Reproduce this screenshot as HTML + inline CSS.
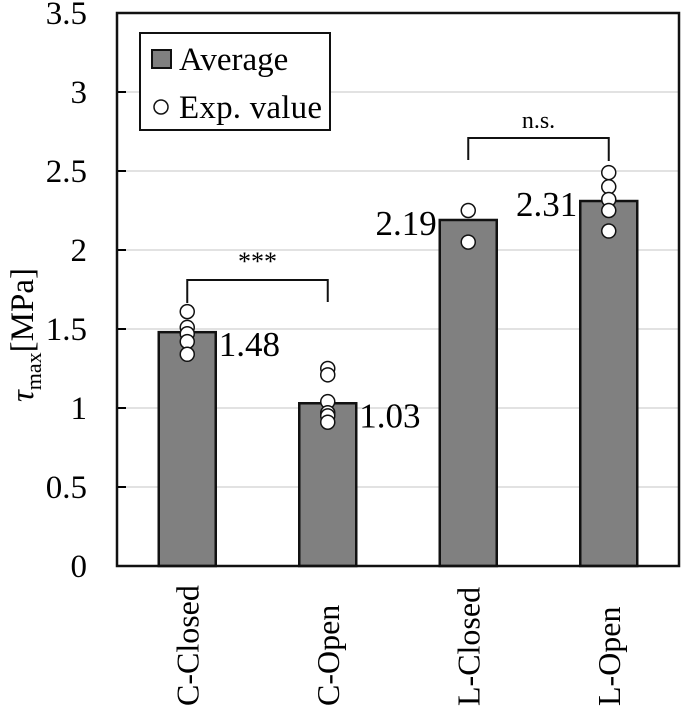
<!DOCTYPE html>
<html><head><meta charset="utf-8"><style>
body{margin:0;background:#fff}
svg{display:block;font-family:"Liberation Serif",serif}
</style></head><body>
<svg id="c" width="685" height="714" xmlns="http://www.w3.org/2000/svg"></svg>
<script>
const categories=["C-Closed","C-Open","L-Closed","L-Open"];
const averages=[1.48,1.03,2.19,2.31];
const avgLabels=["1.48","1.03","2.19","2.31"];
const expCClosed=[1.61,1.51,1.47,1.42,1.34];
const expCOpen=[1.25,1.21,1.04,0.97,0.95,0.91];
const expLClosed=[2.25,2.05];
const expLOpen=[2.49,2.40,2.32,2.25,2.12];
const yTicks=[0,0.5,1,1.5,2,2.5,3,3.5];
const yTickLabels=["0","0.5","1","1.5","2","2.5","3","3.5"];
const expAll=[expCClosed,expCOpen,expLClosed,expLOpen];

const NS="http://www.w3.org/2000/svg";
const svg=document.getElementById('c');
const L=117,R=679,T=13,B=566,ymax=3.5;
const band=(R-L)/categories.length, bw=57;
const y=v=>B-(v/ymax)*(B-T);
const x=i=>L+band*(i+0.5);
function mk(t,a,p){const e=document.createElementNS(NS,t);for(const k in a)e.setAttribute(k,a[k]);(p||svg).appendChild(e);return e;}

yTicks.forEach((t,i)=>{
  if(t>0&&t<ymax){const g=mk('line',{x1:L,x2:R,y1:y(t),y2:y(t),stroke:'#d9d9d9','stroke-width':1.5});
  
  }
  const tk=mk('line',{x1:L,x2:L+9,y1:y(t),y2:y(t),stroke:'#000','stroke-width':2});
  
  
  const tl=mk('text',{x:87,y:y(t)+11,'text-anchor':'end','font-size':33});
  tl.textContent=yTickLabels[i];
  
  
});

categories.forEach((c,i)=>{
  const b=mk('rect',{x:x(i)-bw/2,y:y(averages[i]),width:bw,height:B-y(averages[i]),fill:'#808080',stroke:'#111','stroke-width':2.5});
  
  
  const lb=mk('text',{'font-size':35});
  lb.textContent=avgLabels[i];
  if(i<2){lb.setAttribute('x',x(i)+bw/2+3);lb.setAttribute('y',y(averages[i])+24);lb.setAttribute('text-anchor','start');}
  else{lb.setAttribute('x',x(i)-bw/2-3);lb.setAttribute('y',y(averages[i])+15);lb.setAttribute('text-anchor','end');}
  
  
  expAll[i].forEach(v=>{
    const p=mk('circle',{cx:x(i),cy:y(v),r:7,fill:'#fff',stroke:'#111','stroke-width':1.5});
    
    
  });
  const xl=mk('text',{transform:`translate(${x(i)+11},${706}) rotate(-90)`,'font-size':32,'text-anchor':'start'});
  xl.textContent=c;
  
  
});

const fr=mk('rect',{x:L,y:T,width:R-L,height:B-T,fill:'none',stroke:'#111','stroke-width':2.5});



function bracket(i,j,top,ly,ry,label,name){
  const p=mk('path',{d:`M${x(i)},${ly}V${top}H${x(j)}V${ry}`,fill:'none',stroke:'#111','stroke-width':2});
  
  
  const t=mk('text',{x:(x(i)+x(j))/2,y:top-10,'text-anchor':'middle','font-size':label==='***'?26:24});
  t.textContent=label;
  
  
}
bracket(0,1,280,303,302,'***','significance-bracket');
bracket(2,3,138,160,161,'n.s.','ns-bracket');

const lg=mk('g',{});


mk('rect',{x:140,y:33,width:190,height:97,fill:'#fff',stroke:'#111','stroke-width':2},lg);
mk('rect',{x:152,y:50,width:19,height:18,fill:'#808080',stroke:'#111','stroke-width':2},lg);
const t1=mk('text',{x:179,y:70,'font-size':33},lg);t1.textContent='Average';
mk('circle',{cx:161,cy:107,r:7,fill:'#fff',stroke:'#111','stroke-width':1.5},lg);
const t2=mk('text',{x:179,y:118,'font-size':33,textLength:143},lg);t2.textContent='Exp. value';

const yt=mk('text',{transform:'translate(33,335) rotate(-90)','text-anchor':'middle','font-size':33});
yt.innerHTML='<tspan font-style="italic">τ</tspan><tspan font-size="22" dy="8">max</tspan><tspan dy="-8">[MPa]</tspan>';


</script>
</body></html>
